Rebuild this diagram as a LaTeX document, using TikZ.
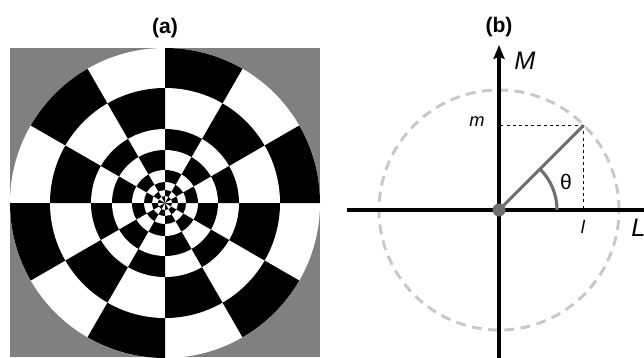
\documentclass[tikz,border=0pt]{standalone}
\usepackage{fontspec}
\setmainfont{Liberation Sans}
\usetikzlibrary{arrows.meta, calc}

\begin{document}
\begin{tikzpicture}[
    x=0.025cm, y=0.025cm,
    every node/.style={inner sep=0pt},
]

% ---------------------------------------------------------------- colours
\definecolor{bggray}{HTML}{808080}    % backdrop behind the disc
\definecolor{vecgray}{HTML}{6E6E6E}   % the vector, its angle, the origin
\definecolor{ringgray}{HTML}{C8C8C8}  % unit circle

% ---------------------------------------------------------------- styles
\tikzset{
    title/.style={font=\fontsize{15}{18}\selectfont\bfseries},
    axislabel/.style={font=\fontsize{18}{21}\selectfont\itshape},
    coordlabel/.style={font=\fontsize{13}{15}\selectfont\itshape},
    axisline/.style={line width=2.3pt, black},
    vecline/.style={line width=2.2pt, vecgray},
    guide/.style={line width=0.7pt, black, dash pattern=on 2.2pt off 2.2pt},
}

% ================================================================
% GEOMETRY (1 unit = 1 px of the 644 x 357 frame, y upwards)
%   panel a   backdrop x in [10, 320], disc centred on (165, 154)
%   panel b   origin (499, 147), unit circle r = 120, theta = 45
% ================================================================
\useasboundingbox (0,0) rectangle (644,357);

% ---------------------------------------------------------------- panel a
\node[title] (ta) at (165, 329) {(a)};

\fill[bggray] (10,0) rectangle (320,309);

\coordinate (C) at (165,154);
\foreach \r [count=\k from 0] in {155,115,74,53,33,21,13,7} {
    \fill[white] (C) circle[radius=\r];
    \foreach \j in {0,...,11} {
        \pgfmathtruncatemacro{\odd}{mod(\j+\k,2)}
        \ifnum\odd=0
            \fill[black] (C) -- ++(\j*30:\r)
                arc[start angle=\j*30, end angle=\j*30+30, radius=\r] -- cycle;
        \fi
    }
}

% ---------------------------------------------------------------- panel b
\node[title] (tb) at (499, 330) {(b)};

\coordinate (O) at (499,147);
\coordinate (P) at ($(O)+(45:120)$);
\coordinate (Pm) at (O |- P);
\coordinate (Pl) at (P |- O);
\coordinate (Mtop) at (499,312);
\coordinate (Mbot) at (499,-4);
\coordinate (Lleft) at (347,147);
\coordinate (Lright) at (650,147);

% unit circle
\draw[ringgray, line width=2.1pt, dash pattern=on 7pt off 4.6pt] (O) circle[radius=120];

% axes
\draw[axisline] (Lleft) -- (Lright);
\draw[axisline, -{Stealth[length=10pt, width=8pt, inset=1.8pt]}] (Mbot) -- (Mtop);
\node[axislabel] (M) at (525,296) {M};
\node[axislabel, anchor=west] (L) at (631,129) {L};

% projections onto the axes
\draw[guide] (P) -- (Pm);
\draw[guide] (P) -- (Pl);
\node[coordlabel] (m) at (477,235) {m};
\node[coordlabel] (l) at (583,130) {l};

% the vector and its angle
\draw[vecline] (O) -- (P);
\draw[vecline] (O) ++(0:58) arc[start angle=0, end angle=45, radius=58];
\node[font=\fontsize{15}{18}\selectfont] (th) at (566,175) {θ};
\fill[vecgray] (O) circle[radius=6.5];

\end{tikzpicture}
\end{document}
